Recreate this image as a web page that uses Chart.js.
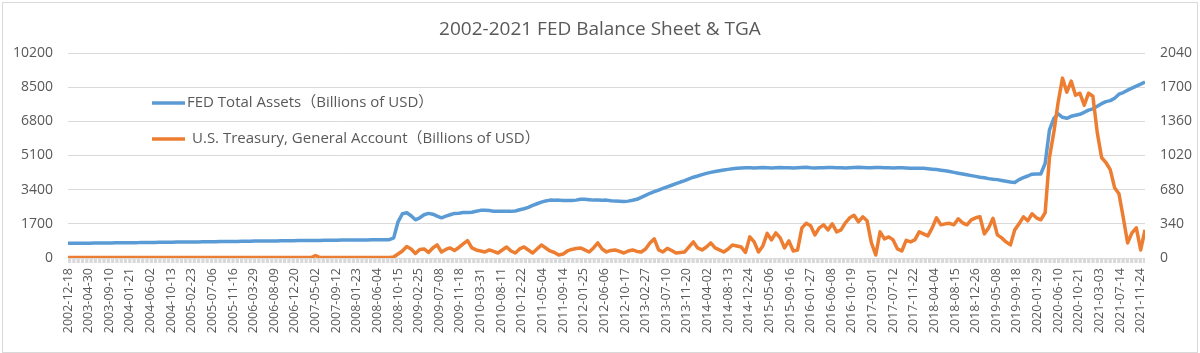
<!DOCTYPE html>
<html>
<head>
<meta charset="utf-8">
<title>2002-2021 FED Balance Sheet & TGA</title>
<script src="https://cdn.jsdelivr.net/npm/chart.js@4.4.1/dist/chart.umd.min.js"></script>
<style>
    html, body { margin: 0; padding: 0; background: #ffffff; }
    #wrap { width: 1200px; height: 353px; }
</style>
</head>
<body>
<div id="wrap"><canvas id="fedChart" width="1200" height="353"></canvas></div>
<script>
// Weekly series, one value every 4 weeks starting 2002-12-18
const sampleStep = 4;
const tickEvery = 19;

// x-axis labels, every 19 weeks
const tickLabels = [
    '2002-12-18', '2003-04-30', '2003-09-10', '2004-01-21', '2004-06-02', '2004-10-13',
    '2005-02-23', '2005-07-06', '2005-11-16', '2006-03-29', '2006-08-09', '2006-12-20',
    '2007-05-02', '2007-09-12', '2008-01-23', '2008-06-04', '2008-10-15', '2009-02-25',
    '2009-07-08', '2009-11-18', '2010-03-31', '2010-08-11', '2010-12-22', '2011-05-04',
    '2011-09-14', '2012-01-25', '2012-06-06', '2012-10-17', '2013-02-27', '2013-07-10',
    '2013-11-20', '2014-04-02', '2014-08-13', '2014-12-24', '2015-05-06', '2015-09-16',
    '2016-01-27', '2016-06-08', '2016-10-19', '2017-03-01', '2017-07-12', '2017-11-22',
    '2018-04-04', '2018-08-15', '2018-12-26', '2019-05-08', '2019-09-18', '2020-01-29',
    '2020-06-10', '2020-10-21', '2021-03-03', '2021-07-14', '2021-11-24'
];

const leftTicks = [0, 1700, 3400, 5100, 6800, 8500, 10200];
const rightTicks = [0, 340, 680, 1020, 1360, 1700, 2040];

// FED Total Assets (Billions of USD), left axis
const fedAssets = [
    730, 730, 735, 735, 740, 740, 745, 745, 745, 750, 750, 755, 755,
    760, 760, 765, 765, 770, 770, 775, 775, 780, 780, 785, 785, 790,
    790, 795, 795, 800, 800, 805, 805, 810, 810, 815, 815, 820, 825,
    825, 830, 830, 835, 840, 840, 845, 845, 850, 850, 855, 855, 860,
    860, 865, 865, 870, 870, 875, 875, 880, 880, 885, 885, 890, 890,
    890, 895, 895, 900, 900, 905, 905, 905, 910, 910,
    1000, 1800, 2200, 2250, 2100, 1900, 2000, 2150, 2220, 2180,
    2080, 2000, 2080, 2150, 2220, 2230, 2260, 2270, 2280, 2330,
    2370, 2380, 2360, 2330, 2330, 2320, 2320, 2320, 2340, 2400,
    2450, 2520, 2620, 2700, 2780, 2840, 2880, 2870, 2880, 2860,
    2860, 2860, 2880, 2920, 2920, 2900, 2880, 2880, 2870, 2880,
    2850, 2830, 2820, 2810, 2830, 2870, 2920, 3020, 3120, 3220,
    3300, 3380, 3460, 3540, 3620, 3700, 3780, 3850, 3940, 4020,
    4080, 4150, 4210, 4260, 4300, 4340, 4380, 4410, 4440, 4460,
    4480,
    4490, 4490, 4480, 4490, 4500, 4490, 4480, 4490, 4500, 4490,
    4490, 4480, 4490, 4500, 4510, 4490, 4480, 4490, 4490, 4500,
    4500, 4490, 4490, 4480, 4490, 4500, 4510, 4500, 4490, 4490,
    4500, 4500, 4490, 4490, 4480, 4490, 4490, 4480, 4470, 4470,
    4460, 4460,
    4440, 4420, 4400, 4370, 4340, 4300, 4260, 4220, 4180, 4140,
    4100, 4060, 4020, 3990, 3950, 3920, 3900, 3860, 3820, 3780,
    3760, 3900, 4000, 4080, 4170, 4180, 4180,
    4700, 6370, 6940, 7170, 7000, 6950, 7050, 7100, 7150, 7250,
    7360, 7420, 7550, 7680, 7780, 7830, 7950, 8150, 8230, 8350,
    8450, 8550, 8650, 8760
];

// U.S. Treasury, General Account (Billions of USD), right axis
const tgaBalance = [
    5, 5, 5, 5, 5, 5, 5, 5, 5, 5, 5, 5, 5,
    5, 5, 5, 5, 5, 5, 5, 5, 5, 5, 5, 5, 5,
    5, 5, 5, 5, 5, 5, 5, 5, 5, 5, 5, 5, 5,
    5, 5, 5, 5, 5, 5, 5, 5, 5, 5, 5, 5, 5,
    5, 5, 5, 5, 5, 25, 5, 5, 5, 5, 5, 5, 5,
    5, 5, 5, 5, 5, 5, 5, 5, 5, 5,
    10, 40, 70, 115, 90, 45, 85, 90, 55, 100,
    130, 60, 85, 100, 75, 105, 140, 172, 100, 80,
    70, 60, 80, 65, 50, 80, 110, 70, 50, 90,
    110, 80, 50, 90, 130, 100, 70, 55, 30, 40,
    70, 85, 95, 100, 80, 60, 100, 150, 90, 60,
    75, 80, 65, 50, 70, 80, 65, 60, 90, 150,
    190, 80, 60, 95, 75, 50, 55, 60, 110, 160,
    100, 80, 110, 150, 100, 80, 60, 90, 130, 120,
    110,
    55, 210, 160, 60, 120, 245, 180, 250, 200, 100,
    170, 70, 80, 300, 345, 320, 230, 300, 330, 280,
    340, 260, 280, 350, 400, 425, 360, 410, 370, 150,
    30, 260, 190, 210, 180, 90, 70, 175, 160, 180,
    260, 240, 220, 300, 400, 330, 340, 345, 330, 390,
    350, 330, 380, 400, 410, 240, 300, 395, 230,
    200, 160, 130, 280, 340, 410, 370, 440, 400, 380,
    450, 1000, 1250, 1550, 1790, 1650, 1760, 1620, 1640, 1520,
    1640, 1610, 1250, 1000, 950, 880, 700, 640, 400, 150,
    250, 300, 80, 280
];

const seriesNames = [
    'FED Total Assets（Billions of USD）',
    'U.S. Treasury, General Account（Billions of USD）'
];
const chartTitle = '2002-2021 FED Balance Sheet & TGA';

const textColor = '#595959';
const gridColor = '#d9d9d9';
const blue = '#5b9bd5';
const orange = '#ed7d31';
const fontFamily = '"Open Sans", "Noto Sans CJK SC", sans-serif';

const toPoints = (values) => values.map((v, i) => ({ x: i * sampleStep, y: v }));
const lastWeek = (fedAssets.length - 1) * sampleStep;
const plainNumber = (value) => String(value);

// Title, in-plot legend, frame and the tick band under the zero line
const decorPlugin = {
    id: 'decor',
    beforeDraw(chart) {
        const ctx = chart.ctx;
        ctx.save();
        ctx.fillStyle = '#ffffff';
        ctx.fillRect(0, 0, chart.width, chart.height);
        ctx.strokeStyle = gridColor;
        ctx.lineWidth = 1;
        ctx.strokeRect(2.5, 2.5, chart.width - 5, chart.height - 3);
        ctx.restore();
    },
    beforeDatasetsDraw(chart) {
        const { ctx, chartArea } = chart;
        ctx.save();
        ctx.strokeStyle = gridColor;
        ctx.lineWidth = 4;
        ctx.setLineDash([3.2, 1.1]);
        ctx.beginPath();
        ctx.moveTo(chartArea.left, chartArea.bottom + 3);
        ctx.lineTo(chartArea.right, chartArea.bottom + 3);
        ctx.stroke();
        ctx.restore();
    },
    afterDraw(chart) {
        const ctx = chart.ctx;
        ctx.save();
        ctx.fillStyle = textColor;
        ctx.font = '19px ' + fontFamily;
        ctx.textAlign = 'center';
        ctx.textBaseline = 'middle';
        ctx.fillText(chartTitle, chart.width / 2, 30);

        const entries = [
            { color: blue, y: 103, textX: 187, text: seriesNames[0] },
            { color: orange, y: 139, textX: 192, text: seriesNames[1] }
        ];
        ctx.font = '15px ' + fontFamily;
        ctx.textAlign = 'left';
        entries.forEach(e => {
            ctx.strokeStyle = e.color;
            ctx.lineWidth = 3.5;
            ctx.beginPath();
            ctx.moveTo(152, e.y);
            ctx.lineTo(185, e.y);
            ctx.stroke();
            ctx.fillText(e.text, e.textX, e.y);
        });
        ctx.restore();
    }
};

document.addEventListener('DOMContentLoaded', function() {
    const ctx = document.getElementById('fedChart').getContext('2d');
    new Chart(ctx, {
        type: 'line',
        data: {
            datasets: [
                {
                    label: seriesNames[1],
                    data: toPoints(tgaBalance),
                    yAxisID: 'y1',
                    borderColor: orange,
                    borderWidth: 3.5,
                    pointRadius: 0,
                    tension: 0,
                    borderJoinStyle: 'round',
                    order: 0
                },
                {
                    label: seriesNames[0],
                    data: toPoints(fedAssets),
                    yAxisID: 'y',
                    borderColor: blue,
                    borderWidth: 3.5,
                    pointRadius: 0,
                    tension: 0,
                    borderJoinStyle: 'round',
                    order: 1
                }
            ]
        },
        options: {
            responsive: false,
            animation: false,
            devicePixelRatio: 1,
            layout: { padding: { top: 53, left: 0, right: 0, bottom: 0 } },
            scales: {
                x: {
                    type: 'linear',
                    min: 0,
                    max: lastWeek,
                    afterBuildTicks: (axis) => {
                        axis.ticks = tickLabels.map((_, k) => ({ value: k * tickEvery }));
                    },
                    afterFit: (scale) => { scale.height = 95; },
                    grid: { display: false, drawTicks: false },
                    border: { display: false },
                    ticks: {
                        autoSkip: false,
                        minRotation: 90,
                        maxRotation: 90,
                        padding: 10,
                        color: textColor,
                        font: { family: fontFamily, size: 12.5 },
                        callback: (value, index) => tickLabels[index]
                    }
                },
                y: {
                    position: 'left',
                    min: 0,
                    max: 10200,
                    afterBuildTicks: (axis) => { axis.ticks = leftTicks.map(v => ({ value: v })); },
                    afterFit: (scale) => { scale.width = 68; },
                    grid: { color: gridColor, drawTicks: false },
                    border: { display: false },
                    ticks: {
                        padding: 15,
                        color: textColor,
                        font: { family: fontFamily, size: 14 },
                        callback: plainNumber
                    }
                },
                y1: {
                    position: 'right',
                    min: 0,
                    max: 2040,
                    afterBuildTicks: (axis) => { axis.ticks = rightTicks.map(v => ({ value: v })); },
                    afterFit: (scale) => { scale.width = 55; },
                    grid: { display: false, drawTicks: false },
                    border: { display: false },
                    ticks: {
                        padding: 15,
                        color: textColor,
                        font: { family: fontFamily, size: 14 },
                        callback: plainNumber
                    }
                }
            },
            plugins: {
                legend: { display: false },
                title: { display: false },
                tooltip: { enabled: false }
            }
        },
        plugins: [decorPlugin]
    });
});
</script>
</body>
</html>
